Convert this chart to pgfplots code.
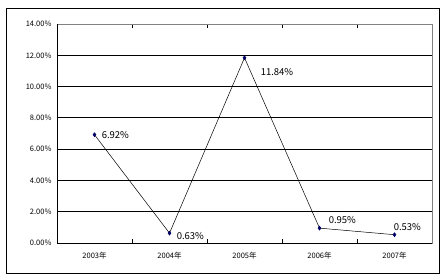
\documentclass[border=0pt]{standalone}
\usepackage{pgfplots}
\pgfplotsset{compat=1.18}
\usepackage{fontspec}
\setmainfont{Noto Sans CJK SC}
\begin{document}
\begin{tikzpicture}[x=1pt,y=1pt]
\useasboundingbox (0,0) rectangle (444,280);
\draw[black, line width=0.9pt] (6,7) rectangle (439,272);
\begin{axis}[
  at={(57pt,37pt)}, anchor=south west,
  scale only axis, width=375pt, height=219pt,
  xmin=-0.5, xmax=4.5, ymin=0, ymax=14,
  xtick={0,1,2,3,4},
  xticklabels={2003年,2004年,2005年,2006年,2007年},
  minor xtick={0.5,1.5,2.5,3.5},
  major tick length=0pt, minor tick length=4pt,
  tick align=inside,
  ytick={0,2,...,14},
  yticklabel={\pgfmathprintnumber[fixed,fixed zerofill,precision=2]{\tick}\%},
  /pgf/number format/assume math mode=true,
  ymajorgrids, major grid style={black, line width=0.8pt},
  axis line style={draw=gray, line width=0.8pt},
  tick style={black, line width=0.7pt},
  ticklabel style={font=\fontsize{7.5pt}{9pt}\selectfont},
  yticklabel style={xshift=-2pt},
  xticklabel style={yshift=-6pt},
  clip=false,
]
\addplot[black, line width=0.5pt, mark=diamond*, mark size=2pt,
  mark options={fill=blue!40!black, draw=blue!40!black},
  visualization depends on={\thisrow{dx}\as\dx},
  visualization depends on={\thisrow{dy}\as\dy},
  nodes near coords={\pgfmathprintnumber[fixed,fixed zerofill,precision=2]{\pgfplotspointmeta}\%},
  nodes near coords style={anchor=west, xshift=\dx pt, yshift=\dy pt, font=\fontsize{9.5pt}{10pt}\selectfont, text=black, inner sep=0pt},
  point meta=explicit,
] table[x=x, y=y, meta=y] {
x y dx dy
0 6.92 7 0
1 0.63 7 -3
2 11.84 16 -14
3 0.95 9 8
4 0.53 -1 8
};
\draw[black, line width=0.8pt] (rel axis cs:0,1) -- (rel axis cs:0,0) -- (rel axis cs:1,0);
\end{axis}
\end{tikzpicture}
\end{document}
